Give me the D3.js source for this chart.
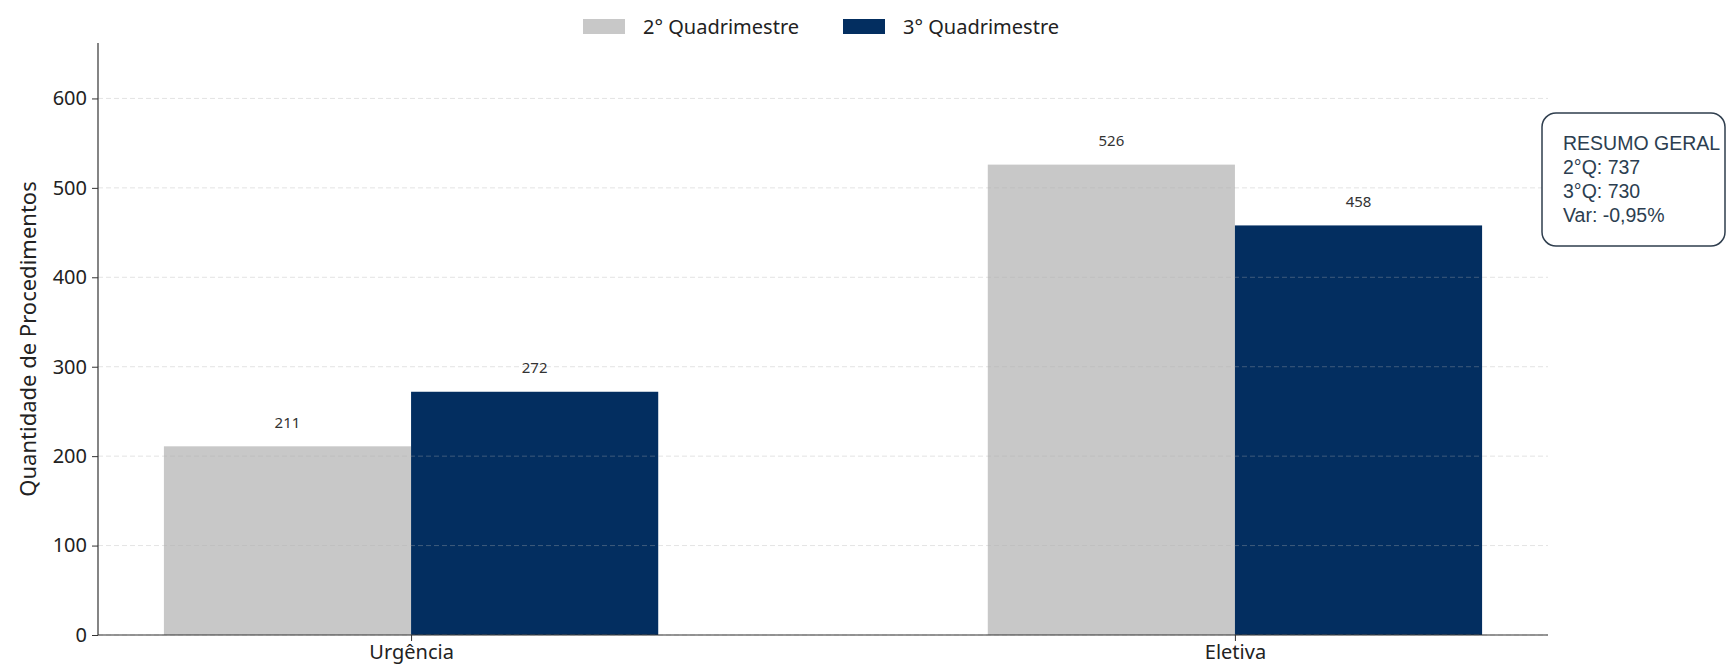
<!DOCTYPE html>
<html>
<head>
<meta charset="utf-8">
<script src="https://cdn.jsdelivr.net/npm/d3@7"></script>
<style>
  html, body { margin: 0; padding: 0; background: #ffffff; }
  svg { display: block; font-family: "Noto Sans", "Open Sans", sans-serif; }
</style>
</head>
<body>
<svg id="chart" width="1727" height="668"></svg>
<script>
// ---- data ----
const categories = ["Urgência", "Eletiva"];
const seriesNames = ["2° Quadrimestre", "3° Quadrimestre"];
const q2Values = [211, 526];
const q3Values = [272, 458];
const yTicks = [0, 100, 200, 300, 400, 500, 600];
const yLabel = "Quantidade de Procedimentos";
const summaryLines = ["RESUMO GERAL", "2°Q: 737", "3°Q: 730", "Var: -0,95%"];

// ---- layout ----
(function () {
const colors = ["#c8c8c8", "#032e60"];
const svg = d3.select("#chart");
const pLeft = 98, pRight = 1548, pTop = 43, pBottom = 635;
const barW = 0.3;

const x = d3.scaleLinear().domain([-0.38, 1.38]).range([pLeft, pRight]);
const y = d3.scaleLinear().domain([0, 662]).range([pBottom, pTop]);

const series = [q2Values, q3Values];

// bars
series.forEach((vals, s) => {
  svg.append("g").selectAll("rect")
    .data(vals)
    .join("rect")
    .attr("x", (d, i) => x(i + (s === 0 ? -barW : 0)))
    .attr("width", x(barW) - x(0))
    .attr("y", d => y(d))
    .attr("height", d => y(0) - y(d))
    .attr("fill", colors[s]);

  svg.append("g").selectAll("text")
    .data(vals)
    .join("text")
    .attr("x", (d, i) => x(i + (s === 0 ? -barW / 2 : barW / 2)))
    .attr("y", d => y(d) - 24)
    .attr("dy", "0.35em")
    .attr("text-anchor", "middle")
    .attr("font-size", 15)
    .attr("fill", "#333")
    .text(d => d);
});

// grid lines (drawn on top, faint dashed)
svg.append("g").selectAll("line")
  .data(yTicks)
  .join("line")
  .attr("x1", pLeft).attr("x2", pRight)
  .attr("y1", d => y(d)).attr("y2", d => y(d))
  .attr("stroke", "#b0b0b0")
  .attr("stroke-opacity", 0.35)
  .attr("stroke-dasharray", "5,3")
  .attr("stroke-width", 1);

// y axis
const yAxis = d3.axisLeft(y).tickValues(yTicks).tickSize(6).tickPadding(5);
const gy = svg.append("g").attr("transform", `translate(${pLeft},0)`).call(yAxis);
gy.select(".domain").attr("stroke", "#333").attr("stroke-width", 1.2).attr("d", `M0,${pTop}V${pBottom}`);
gy.selectAll(".tick line").attr("stroke", "#333");
gy.selectAll(".tick text").attr("font-size", 20).attr("fill", "#222")
  .attr("font-family", "\"Noto Sans\", sans-serif");

// x axis
const xAxis = d3.axisBottom(x).tickValues(categories.map((c, i) => i))
  .tickFormat(i => categories[i]).tickSize(6).tickPadding(4);
const gx = svg.append("g").attr("transform", `translate(0,${pBottom})`).call(xAxis);
gx.select(".domain").attr("stroke", "#333").attr("stroke-width", 1.2).attr("d", `M${pLeft},0H${pRight}`);
gx.selectAll(".tick line").attr("stroke", "#333");
gx.selectAll(".tick text").attr("font-size", 20).attr("fill", "#222")
  .attr("font-family", "\"Noto Sans\", sans-serif");

// y label
svg.append("text")
  .attr("transform", `translate(28,${(pTop + pBottom) / 2}) rotate(-90)`)
  .attr("text-anchor", "middle")
  .attr("dy", "0.35em")
  .attr("font-size", 22)
  .attr("fill", "#222")
  .text(yLabel);

// legend
const legendItems = [{ x: 583, tx: 643 }, { x: 843, tx: 903 }];
const lg = svg.append("g");
seriesNames.forEach((name, i) => {
  lg.append("rect")
    .attr("x", legendItems[i].x).attr("y", 19)
    .attr("width", 42).attr("height", 15)
    .attr("fill", colors[i]);
  lg.append("text")
    .attr("x", legendItems[i].tx).attr("y", 27)
    .attr("dy", "0.35em")
    .attr("font-size", 20)
    .attr("fill", "#222")
    .text(name);
});

// summary box
svg.append("rect")
  .attr("x", 1542).attr("y", 113)
  .attr("width", 183).attr("height", 133)
  .attr("rx", 14).attr("ry", 14)
  .attr("fill", "#ffffff")
  .attr("stroke", "#2f3e4e")
  .attr("stroke-width", 1.5);
svg.append("g").selectAll("text")
  .data(summaryLines)
  .join("text")
  .attr("x", 1563)
  .attr("y", (d, i) => 143 + i * 24)
  .attr("dy", "0.35em")
  .attr("font-family", "\"Liberation Sans\", Arial, sans-serif")
  .attr("font-size", 19.5)
  .attr("fill", "#2c3e50")
  .text(d => d);
})();
</script>
</body>
</html>
